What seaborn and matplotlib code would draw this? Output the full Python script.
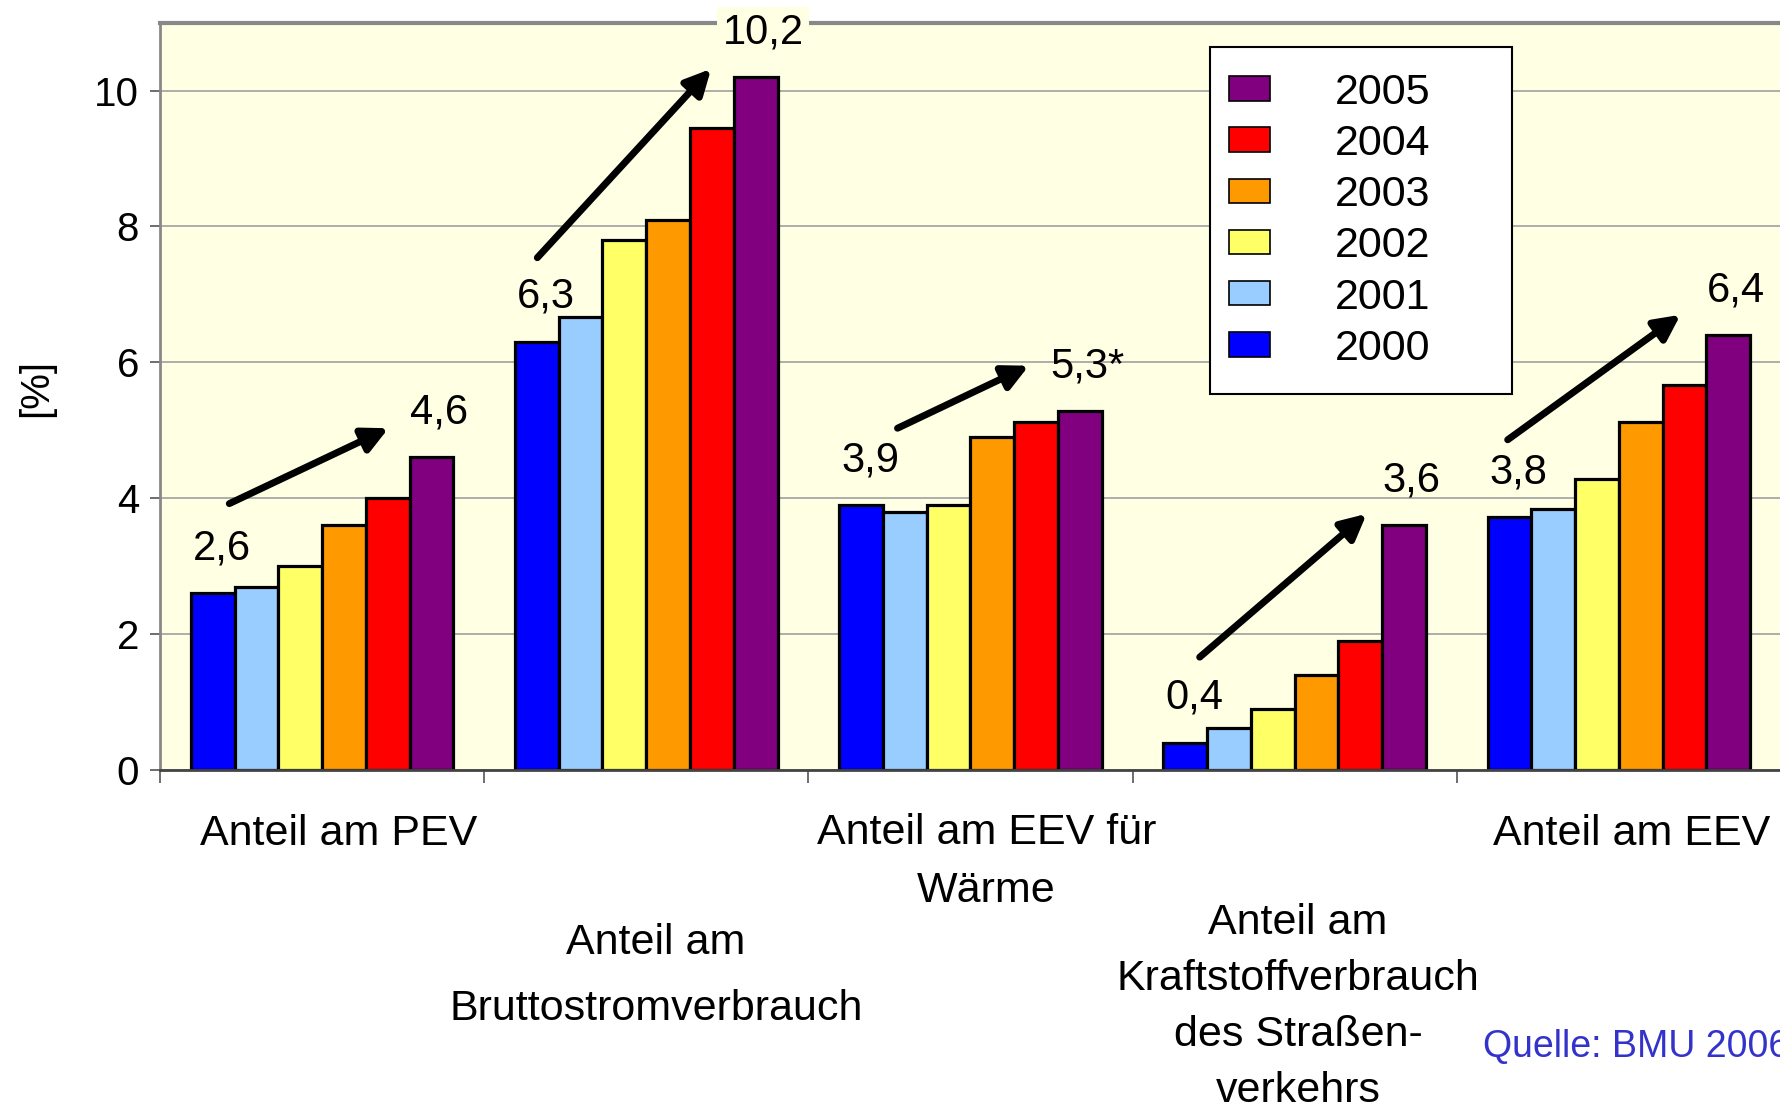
import numpy as np
import pandas as pd
import matplotlib
matplotlib.use('Agg')
import matplotlib.pyplot as plt
import matplotlib.patches as mpatches
import seaborn as sns

# data (percent)
categories = ['PEV', 'Brutto', 'Waerme', 'Kraft', 'EEV']
years = ['2000', '2001', '2002', '2003', '2004', '2005']
v2000 = [2.6, 6.3, 3.9, 0.4, 3.72]
v2001 = [2.7, 6.67, 3.8, 0.62, 3.84]
v2002 = [3.0, 7.8, 3.9, 0.9, 4.28]
v2003 = [3.6, 8.1, 4.9, 1.4, 5.12]
v2004 = [4.0, 9.45, 5.12, 1.9, 5.66]
v2005 = [4.6, 10.2, 5.28, 3.6, 6.4]

cat_labels = ['Anteil am PEV', 'Anteil am\nBruttostromverbrauch',
              'Anteil am EEV für\nWärme',
              'Anteil am\nKraftstoffverbrauch\ndes Straßen-\nverkehrs',
              'Anteil am EEV']
first_labels = ['2,6', '6,3', '3,9', '0,4', '3,8']
last_labels = ['4,6', '10,2', '5,3*', '3,6', '6,4']

colors = ['#0000FF', '#99CCFF', '#FFFF66', '#FF9900', '#FF0000', '#800080']

# trend arrows (start -> end, data coords)
arrows = [((-0.286, 3.92), (0.205, 5.03)),
          ((0.664, 7.54), (1.20, 10.32)),
          ((1.775, 5.03), (2.18, 5.95)),
          ((2.707, 1.66), (3.222, 3.77)),
          ((3.657, 4.86), (4.19, 6.70))]

values = [v2000, v2001, v2002, v2003, v2004, v2005]
df = pd.DataFrame({
    'Kategorie': np.tile(categories, len(years)),
    'Jahr': np.repeat(years, len(categories)),
    'Anteil': np.concatenate(values),
})

sns.set_style('white')
plt.rcParams['font.family'] = ['Liberation Sans', 'DejaVu Sans']
plt.rcParams['text.color'] = 'black'
plt.rcParams['xtick.labelcolor'] = 'black'
plt.rcParams['ytick.labelcolor'] = 'black'

fig = plt.figure(figsize=(17.81, 11.11), dpi=100)
ax = fig.add_axes([0.0898, 0.307, 0.9102, 0.6726])
ax.set_facecolor('#FFFFE3')

sns.barplot(data=df, x='Kategorie', y='Anteil', hue='Jahr',
            order=categories, hue_order=years, palette=colors,
            saturation=1, width=0.81, gap=0, edgecolor='black',
            linewidth=2.3, legend=False, ax=ax)

ax.set_xlim(-0.5, 4.5)
ax.set_ylim(0, 11)
ax.set_yticks(range(0, 11, 2))
ax.set_xticks(np.arange(-0.5, 5.0, 1.0))
ax.set_xticklabels([])
ax.set_xlabel('')
ax.set_ylabel('')
ax.yaxis.grid(True, color='#a0a0a0', lw=1.2)
ax.set_axisbelow(True)
ax.tick_params(axis='y', labelsize=29, length=7, width=1.2, color='#555555',
               labelcolor='black', pad=8, left=True)
ax.tick_params(axis='x', length=9, width=1.2, color='#555555', bottom=True)

for side in ['left', 'top']:
    ax.spines[side].set_color('#888888')
ax.spines['left'].set_linewidth(2)
ax.spines['top'].set_linewidth(3)
ax.spines['bottom'].set_color('#444444')
ax.spines['bottom'].set_linewidth(2)
ax.spines['right'].set_visible(False)

# value labels at first and last bar of each group
for i in range(len(categories)):
    ax.text(i - 0.31, v2000[i] + 0.5, first_labels[i], fontsize=30,
            ha='center', va='baseline', color='black')
    t = ax.text(i + 0.36, v2005[i] + 0.5, last_labels[i], fontsize=30,
                ha='center', va='baseline', color='black', clip_on=False,
                zorder=10)
    if v2005[i] > 10:
        t.set_bbox(dict(facecolor='#FFFFE3', edgecolor='none', pad=4))

for start, end in arrows:
    ax.annotate('', xy=end, xytext=start,
                arrowprops=dict(arrowstyle='-|>', lw=5, color='black',
                                mutation_scale=38, shrinkA=0, shrinkB=0))

# staggered category labels under the axis
label_pos = [(0.05, -0.086, 1.3), (1.03, -0.276, 1.85), (2.05, -0.123, 1.56),
             (3.01, -0.317, 1.52), (4.04, -0.086, 1.3)]
trans = ax.get_xaxis_transform()
for (x, y, ls), lab in zip(label_pos, cat_labels):
    ax.text(x, y, lab, transform=trans, fontsize=31, ha='center', va='center',
            linespacing=ls, clip_on=False, color='black')

# legend: frame drawn separately, entries placed inside it
ax.add_patch(mpatches.Rectangle((0.6475, 0.503), 0.1865, 0.465,
                                transform=ax.transAxes, facecolor='white',
                                edgecolor='black', lw=1.5, zorder=8,
                                clip_on=False))
handles = [mpatches.Patch(facecolor=c, edgecolor='black', lw=1.2, label=y)
           for c, y in zip(colors, years)][::-1]
leg = ax.legend(handles=handles, loc='upper left',
                bbox_to_anchor=(0.6595, 0.933), borderaxespad=0,
                fontsize=31, handlelength=0.95, handleheight=0.5,
                handletextpad=1.5, labelspacing=0.26, borderpad=0,
                frameon=False)
leg.set_zorder(9)
for txt in leg.get_texts():
    txt.set_color('black')

fig.text(0.0202, 0.651, '[%]', rotation=90, fontsize=29, ha='center',
         va='center', color='black')
fig.text(0.8327, 0.0574, 'Quelle: BMU 2006', fontsize=27, color='#3333CC',
         ha='left', va='center')

fig.savefig('out.png', dpi=100)
